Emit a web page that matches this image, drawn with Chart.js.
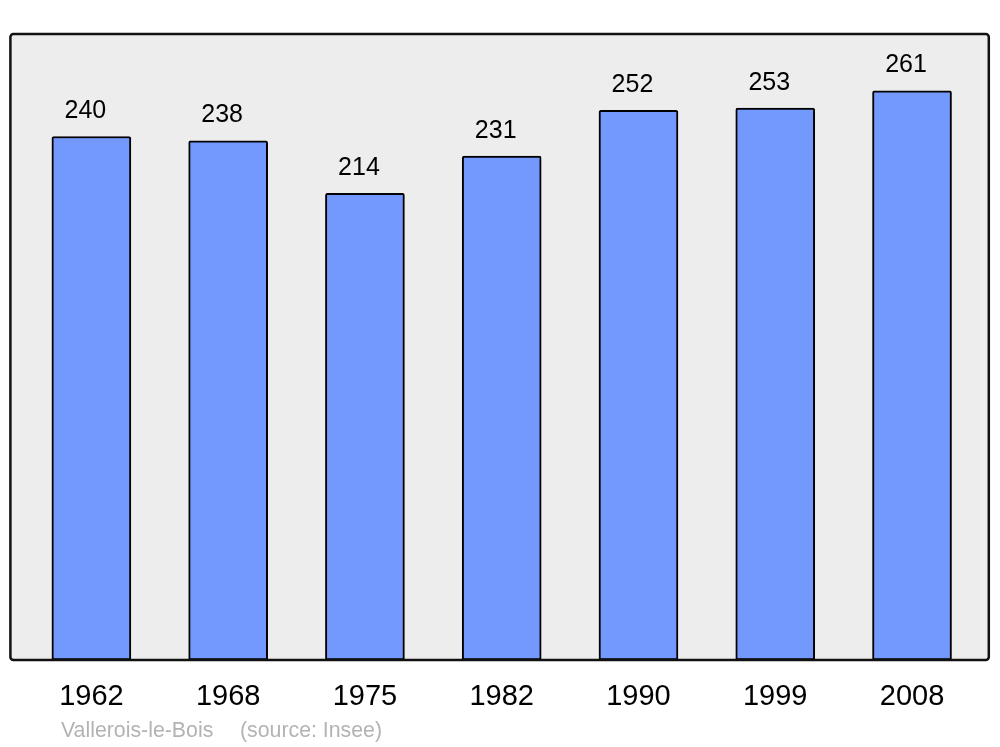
<!DOCTYPE html>
<html>
<head>
<meta charset="utf-8">
<script src="https://cdn.jsdelivr.net/npm/chart.js@4/dist/chart.umd.min.js"></script>
<style>
  html, body { margin: 0; padding: 0; background: #fff; }
  #wrap { width: 1000px; height: 747px; }
</style>
</head>
<body>
<div id="wrap"><canvas id="chart" width="1000" height="747"></canvas></div>
<script>
const years = ["1962", "1968", "1975", "1982", "1990", "1999", "2008"];
const population = [240, 238, 214, 231, 252, 253, 261];
const yMax = 287;
const townName = "Vallerois-le-Bois";
const sourceText = "(source: Insee)";

// gray rounded frame behind the bars
const framePlugin = {
  id: "frame",
  beforeDatasetsDraw(chart) {
    const { ctx, chartArea: a } = chart;
    const x0 = a.left - 12.6, x1 = a.right + 8.4;
    ctx.save();
    ctx.beginPath();
    ctx.roundRect(x0, a.top, x1 - x0, a.bottom - a.top, 3);
    ctx.fillStyle = "#ededed";
    ctx.fill();
    ctx.restore();
  },
  afterDatasetsDraw(chart) {
    const { ctx, chartArea: a } = chart;
    const x0 = a.left - 12.6, x1 = a.right + 8.4;
    ctx.save();
    ctx.beginPath();
    ctx.roundRect(x0, a.top, x1 - x0, a.bottom - a.top, 3);
    ctx.lineWidth = 2.5;
    ctx.strokeStyle = "#111";
    ctx.stroke();

    // value labels above bars
    const meta = chart.getDatasetMeta(0);
    ctx.fillStyle = "#000";
    ctx.font = "25px 'Liberation Sans', Arial, sans-serif";
    ctx.textAlign = "center";
    ctx.textBaseline = "middle";
    meta.data.forEach((bar, i) => {
      ctx.fillText(String(population[i]), bar.x - 6, bar.y - 25.5);
    });

    // source line
    ctx.fillStyle = "#b3b3b3";
    ctx.font = "21.3px 'Liberation Sans', Arial, sans-serif";
    ctx.textAlign = "left";
    ctx.textBaseline = "alphabetic";
    ctx.fillText(townName, 61, 737);
    ctx.fillText(sourceText, 240, 737);
    ctx.restore();
  }
};

new Chart(document.getElementById("chart"), {
  type: "bar",
  data: {
    labels: years,
    datasets: [{
      data: population,
      backgroundColor: "#7399ff",
      borderColor: "#000",
      borderWidth: 2,
      borderSkipped: false,
      borderRadius: { topLeft: 2, topRight: 2, bottomLeft: 0, bottomRight: 0 },
      barThickness: 79
    }]
  },
  options: {
    responsive: false,
    animation: false,
    layout: { padding: { left: 23, right: 19.6, top: 34, bottom: 0 } },
    plugins: { legend: { display: false }, tooltip: { enabled: false } },
    scales: {
      x: {
        grid: { display: false, drawTicks: false },
        border: { display: false },
        ticks: {
          color: "#000",
          font: { family: "'Liberation Sans', Arial, sans-serif", size: 29 },
          padding: 20,
          maxRotation: 0
        },
        afterFit(s) { s.height = 87; }
      },
      y: {
        display: false,
        min: 0,
        max: yMax
      }
    }
  },
  plugins: [framePlugin]
});
</script>
</body>
</html>
